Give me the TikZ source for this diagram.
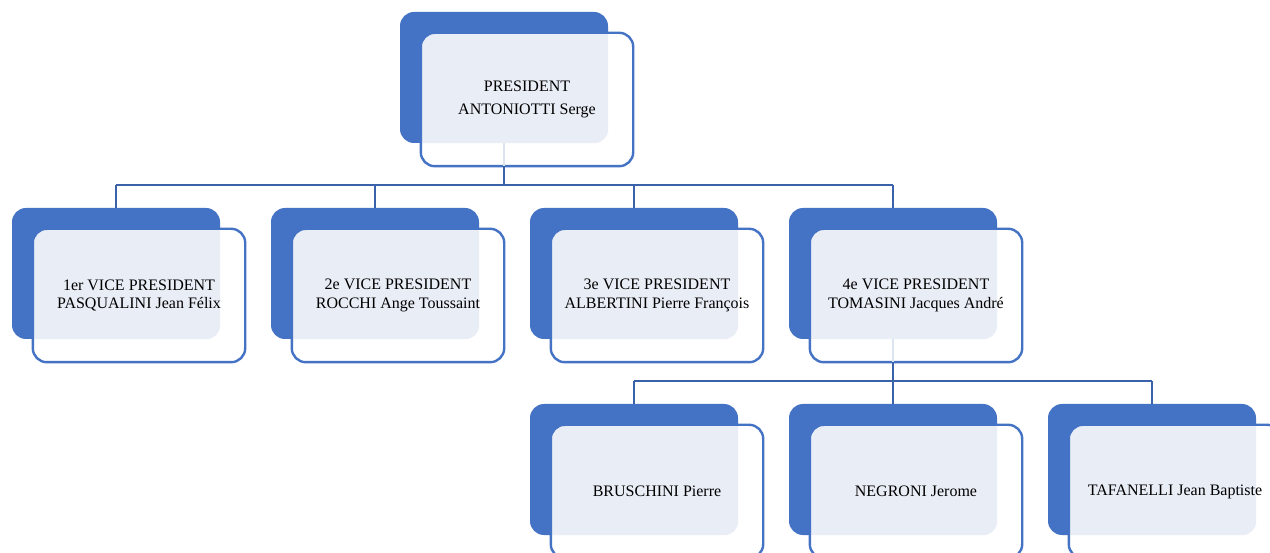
\documentclass[tikz,border=0pt]{standalone}
\usepackage{fontspec}
\setmainfont{Liberation Serif}
\definecolor{accent}{HTML}{4472C4}
\definecolor{lightc}{HTML}{E9EDF6}
\definecolor{connc}{HTML}{3A62AA}
\definecolor{faintc}{HTML}{DCE3F1}
\tikzset{
  backbox/.style={rectangle, rounded corners=14pt, fill=accent, minimum width=208pt, minimum height=131pt, inner sep=0pt},
  frontbox/.style={rectangle, rounded corners=14pt, fill=white, minimum width=212pt, minimum height=133pt, inner sep=0pt},
  frontborder/.style={draw=accent, line width=2.4pt, rounded corners=14pt},
  txt/.style={align=center, inner sep=0pt, text=black, font=\fontsize{16}{18.3}\selectfont},
  conn/.style={draw=connc, line width=2.5pt},
  faint/.style={draw=faintc, line width=2.5pt}
}
\newcommand\orgbox[4]{%
  \node[backbox] (#1b) at (#2-23,#3-22) {};
  \node[frontbox] (#1) at (#2,#3) {};
  \begin{scope}
    \clip[rounded corners=14pt] (#1.south west) rectangle (#1.north east);
    \fill[lightc, rounded corners=14pt] (#1b.south west) rectangle (#1b.north east);
  \end{scope}
  \draw[frontborder] (#1.south west) rectangle (#1.north east);
  \node[txt] (#1t) at (#2,#3) {#4};
}
\begin{document}
\begin{tikzpicture}[x=1pt,y=-1pt]
\useasboundingbox (0,0) rectangle (1270,553);
\clip (0,0) rectangle (1270,553);
\fill[white] (0,0) rectangle (1270,553);
% bus coordinates
\coordinate (bus1) at (504,185);
\coordinate (bus2) at (893,381);
% boxes
\orgbox{p}{527}{99.5}{PRESIDENT\\[4.7pt]ANTONIOTTI Serge}
\orgbox{va}{139}{295.5}{1er VICE PRESIDENT\\PASQUALINI Jean Félix}
\orgbox{vb}{398}{295.5}{2e VICE PRESIDENT\\ROCCHI Ange Toussaint}
\orgbox{vc}{657}{295.5}{3e VICE PRESIDENT\\ALBERTINI Pierre François}
\orgbox{vd}{916}{295.5}{4e VICE PRESIDENT\\TOMASINI Jacques André}
\orgbox{ma}{657}{491.5}{BRUSCHINI Pierre}
\orgbox{mb}{916}{491.5}{NEGRONI Jerome}
\orgbox{mc}{1175}{491.5}{TAFANELLI Jean Baptiste}
% faint segments inside front boxes
\draw[faint] (pb.south) -- (pb.south |- p.south);
\draw[faint] (vdb.south) -- (vdb.south |- vd.south);
% level 1 connectors
\draw[conn] (pb.south |- p.south) -- (pb.south |- bus1);
\draw[conn] (vab.north |- bus1) -- (vdb.north |- bus1);
\foreach \n in {va,vb,vc,vd}{\draw[conn] (\n b.north |- bus1) -- (\n b.north);}
% level 2 connectors
\draw[conn] (vdb.south |- vd.south) -- (vdb.south |- bus2);
\draw[conn] (mab.north |- bus2) -- (mcb.north |- bus2);
\foreach \n in {ma,mb,mc}{\draw[conn] (\n b.north |- bus2) -- (\n b.north);}
\end{tikzpicture}
\end{document}
